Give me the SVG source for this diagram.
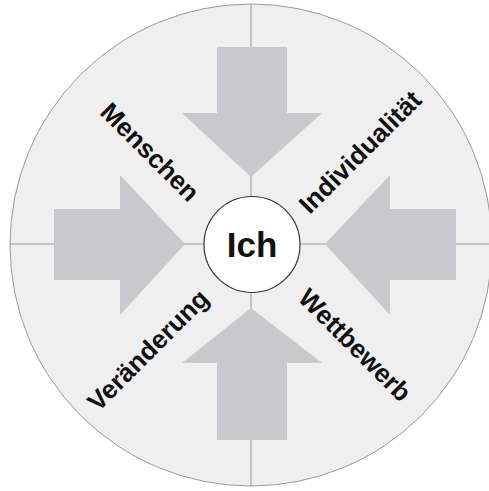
<svg xmlns="http://www.w3.org/2000/svg" width="489" height="491" viewBox="0 0 489 491">
<style>
.arrow{fill:#c9c9cd}
.line{stroke:#9a9a9a;stroke-width:1;fill:none}
.lbl{font-family:"Liberation Sans",Arial,sans-serif;font-weight:bold;font-size:26px;fill:#111;text-anchor:middle}
</style>
<rect width="489" height="491" fill="#ffffff"/>
<g id="background">
<circle cx="251" cy="245" r="241" fill="#efefef" stroke="#9a9a9a" stroke-width="1"/>
</g>
<g id="connectors">
<line class="line" x1="251" y1="4" x2="251" y2="486"/>
<line class="line" x1="10" y1="244" x2="492" y2="244"/>
</g>
<g id="arrow-top"><polygon class="arrow" points="217,47 287,47 287,113 322,113 251,177 182,113 217,113"/></g>
<g id="arrow-left"><polygon class="arrow" points="54,209 120,209 120,175 185,244 120,315 120,280 54,280"/></g>
<g id="arrow-right"><polygon class="arrow" points="456,209 390,209 390,175 325,244 390,315 390,280 456,280"/></g>
<g id="arrow-bottom"><polygon class="arrow" points="217,440 287,440 287,363 322,363 251,308 182,363 217,363"/></g>
<g id="node-ich">
<circle cx="252" cy="244.5" r="48" fill="#ffffff" stroke="#333" stroke-width="1.2"/>
<text x="252" y="257" font-family="'Liberation Sans',Arial,sans-serif" font-weight="bold" font-size="35" fill="#111" text-anchor="middle">Ich</text>
</g>
<g id="label-menschen"><text class="lbl" transform="translate(150,152) rotate(45)" y="9">Menschen</text></g>
<g id="label-individualitaet"><text class="lbl" transform="translate(360,152) rotate(-45)" y="9">Individualität</text></g>
<g id="label-veraenderung"><text class="lbl" transform="translate(148,350) rotate(-45)" y="9">Veränderung</text></g>
<g id="label-wettbewerb"><text class="lbl" transform="translate(355,345) rotate(45)" y="9">Wettbewerb</text></g>
</svg>
